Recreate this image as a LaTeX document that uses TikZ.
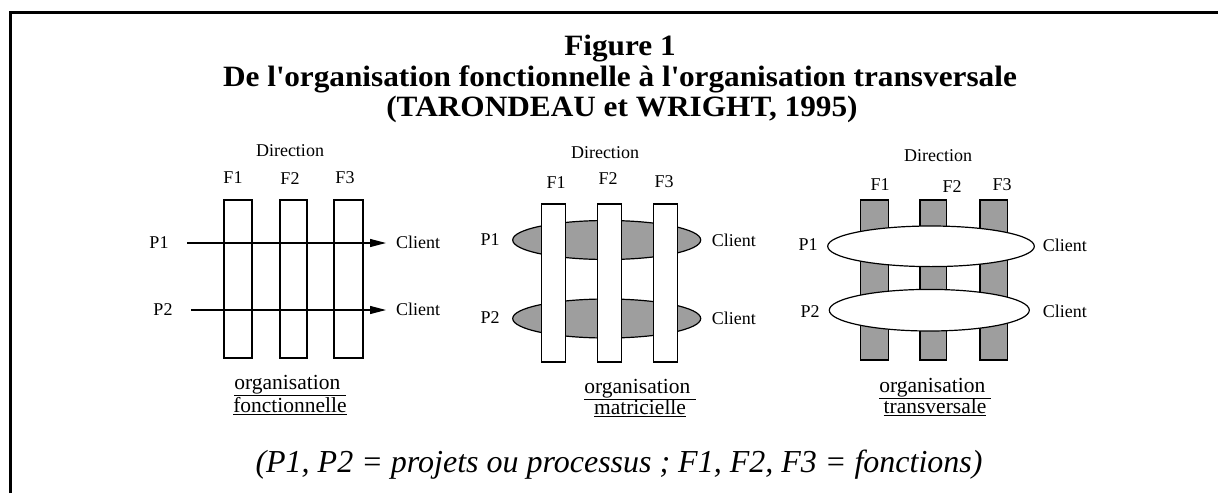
\documentclass[tikz,border=0pt]{standalone}
\usepackage{fontspec}
\setmainfont{Liberation Serif}
\newfontfamily\ttlfont[FakeStretch=1.06]{Liberation Serif}
\usetikzlibrary{arrows.meta}
\begin{document}
\begin{tikzpicture}[x=1pt,y=-1pt,
  lbl/.style={font=\fontsize{18}{21}\selectfont, inner sep=0pt},
  ttl/.style={font=\ttlfont\fontsize{29.5}{31}\selectfont\bfseries, inner sep=0pt, anchor=base},
  fbox/.style={draw, line width=1.2pt, fill=white},
  gbox/.style={draw, line width=1.2pt, fill=black!38},
  gell/.style={draw, line width=1.2pt, fill=black!38},
  well/.style={draw, line width=1.2pt, fill=white},
  flow/.style={line width=1.2pt, -{Triangle[length=16pt,width=8pt]}},
  under/.style={font=\fontsize{21.5}{21.6}\selectfont, inner sep=0pt, align=center}
]
\useasboundingbox (0,0) rectangle (1218,493);
% frame
\draw[line width=3pt] (10.5,493) -- (10.5,12) -- (1218,12);
% title
\node[ttl] (t1) at (620,55) {Figure 1};
\node[ttl] (t2) at (620,86) {De l\textquotesingle organisation fonctionnelle à l\textquotesingle organisation transversale};
\node[ttl] (t3) at (622,116) {(TARONDEAU et WRIGHT, 1995)};

% ---------- panel 1 : fonctionnelle
\node[lbl] (d1) at (290,151) {Direction};
\node[lbl] (a1) at (233,178) {F1};
\node[lbl] (a2) at (290,179) {F2};
\node[lbl] (a3) at (345,178) {F3};
\node[fbox, minimum width=28pt, minimum height=158pt] (b11) at (238,279) {};
\node[fbox, minimum width=27pt, minimum height=158pt] (b12) at (293.5,279) {};
\node[fbox, minimum width=29pt, minimum height=158pt] (b13) at (348.5,279) {};
\node[lbl] (p11) at (159,243) {P1};
\node[lbl] (p12) at (163,310) {P2};
\node[lbl, anchor=west] (c11) at (396,242) {Client};
\node[lbl, anchor=west] (c12) at (396,309) {Client};
\coordinate (s11) at (187,243);
\coordinate (s12) at (191,310);
\coordinate (e11) at (386,243);
\coordinate (e12) at (386,310);
\draw[flow] (s11) -- (e11);
\draw[flow] (s12) -- (e12);
\node[under] (o1) at (290,395) {\underline{organisation~}\\\underline{fonctionnelle}};

% ---------- panel 2 : matricielle
\node[lbl] (d2) at (605,153) {Direction};
\node[lbl] (m1) at (556,183) {F1};
\node[lbl] (m2) at (608,179) {F2};
\node[lbl] (m3) at (664,182) {F3};
\draw[gell] (606.7,240) ellipse [x radius=94, y radius=19.5];
\draw[gell] (606.7,318.5) ellipse [x radius=94, y radius=19.5];
\node[fbox, minimum width=24pt, minimum height=158pt] (b21) at (553.7,283) {};
\node[fbox, minimum width=23.5pt, minimum height=158pt] (b22) at (609.4,283) {};
\node[fbox, minimum width=23.5pt, minimum height=158pt] (b23) at (665.4,283) {};
\node[lbl] (p21) at (490,240) {P1};
\node[lbl] (p22) at (490,318) {P2};
\node[lbl, anchor=west] (c21) at (711.7,240) {Client};
\node[lbl, anchor=west] (c22) at (711.7,318) {Client};
\node[under] (o2) at (640,398) {\underline{organisation~}\\\underline{matricielle}};

% ---------- panel 3 : transversale
\node[lbl] (d3) at (938,156) {Direction};
\node[lbl] (n1) at (880,185) {F1};
\node[lbl] (n2) at (952,187) {F2};
\node[lbl] (n3) at (1002,185) {F3};
\node[gbox, minimum width=27.6pt, minimum height=160pt] (b31) at (874.5,280) {};
\node[gbox, minimum width=26.7pt, minimum height=160pt] (b32) at (933.3,280) {};
\node[gbox, minimum width=27.3pt, minimum height=160pt] (b33) at (993.6,280) {};
\draw[well] (931,246.3) ellipse [x radius=103.3, y radius=20.3];
\draw[well] (929.3,310.2) ellipse [x radius=100, y radius=20.8];
\node[lbl] (p31) at (808,245) {P1};
\node[lbl] (p32) at (810,311.7) {P2};
\node[lbl, anchor=west] (c31) at (1042.7,245) {Client};
\node[lbl, anchor=west] (c32) at (1042.7,311) {Client};
\node[under] (o3) at (935,397) {\underline{organisation~}\\\underline{transversale}};

% footnote
\node[font=\fontsize{32}{34}\selectfont\itshape, inner sep=0pt] (fn) at (619,465) {(P1, P2 = projets ou processus ; F1, F2, F3 = fonctions)};
\end{tikzpicture}
\end{document}
